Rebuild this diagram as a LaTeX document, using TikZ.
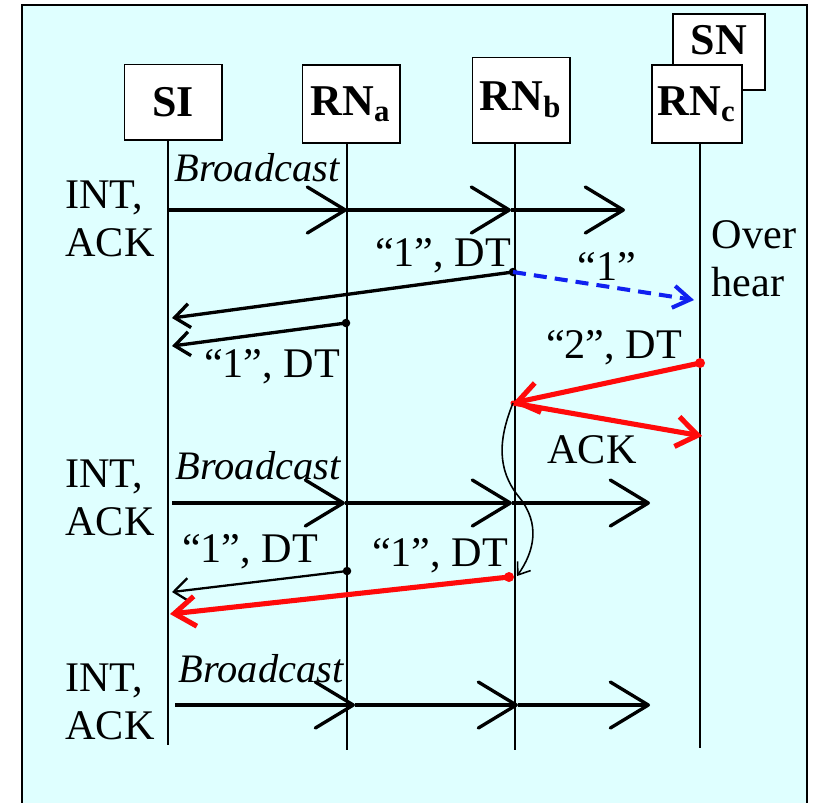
\documentclass[tikz,border=0pt]{standalone}
\usepackage{fontspec}
\setmainfont{Liberation Serif}
\usetikzlibrary{arrows.meta}
\definecolor{SQPanel}{HTML}{DFFFFF}
\definecolor{SQInk}{HTML}{000000}
\definecolor{SQRed}{HTML}{FF0A0A}
\definecolor{SQBlue}{HTML}{1020F0}
\tikzset{
  frame/.style={draw=SQInk,line width=0.5pt,fill=SQPanel},
  lifebox/.style={draw=SQInk,line width=0.55pt,fill=white,minimum width=9.7mm,
                  minimum height=7.5mm,inner sep=0pt,
                  font=\fontsize{12.5}{14}\selectfont\bfseries},
  lifeline/.style={SQInk,line width=0.55pt},
  bcast/.style={-{Straight Barb[length=3.8mm,width=4.6mm,round]},SQInk,line width=0.95pt},
  msg/.style={-{Straight Barb[length=1.5mm,width=2.4mm]},SQInk,line width=0.95pt},
  msgthin/.style={msg,line width=0.65pt},
  msgred/.style={-{Straight Barb[length=2.1mm,width=3mm]},SQRed,line width=1.45pt},
  msgblue/.style={-{Straight Barb[length=1.7mm,width=2.2mm]},SQBlue,line width=1.15pt,
                  dash pattern=on 3.7pt off 2.3pt},
  curvy/.style={-{Straight Barb[length=1.1mm,width=1.6mm]},SQInk,line width=0.45pt},
  dot/.style={circle,fill=SQInk,inner sep=0pt,minimum size=0.85mm},
  reddot/.style={dot,fill=SQRed,minimum size=1mm},
  txt/.style={text=SQInk,inner sep=0pt,font=\fontsize{12}{13.6}\selectfont},
  bclabel/.style={txt,font=\fontsize{11.5}{13}\selectfont\itshape},
}
\begin{document}
\begin{tikzpicture}[x=0.01cm,y=-0.01cm]
  \useasboundingbox (0,0) rectangle (813,802);
  \clip (0,0) rectangle (813,802);
  \draw[frame] (22,5) rectangle (807,840);

  \node[lifebox] (SI) at (173,102) {SI};
  \node[lifebox,minimum height=7.8mm] (RNa) at (351,104) {RN\textsubscript{a}};
  \node[lifebox,minimum height=8.5mm] (RNb) at (521,100) {RN\textsubscript{b}};
  \node[lifebox,minimum width=9.2mm,minimum height=7.6mm] (SN) at (719,52) {};
  \node[lifebox,fill=none,draw=none] (SNlabel) at (719,40) {SN};
  \node[lifebox,minimum width=9mm,minimum height=7.8mm] (RNc) at (697,104) {RN\textsubscript{c}};

  \coordinate (SIend) at (168,745);
  \coordinate (RNaend) at (347,750);
  \coordinate (RNbend) at (515,750);
  \coordinate (RNcend) at (700,748);
  \draw[lifeline] (SI.south -| SIend) -- (SIend);
  \draw[lifeline] (RNa.south -| RNaend) -- (RNaend);
  \draw[lifeline] (RNb.south -| RNbend) -- (RNbend);
  \draw[lifeline] (RNc.south -| RNcend) -- (RNcend);

  % first broadcast
  \node[txt,align=left] (int1) at (110,219) {INT,\\ACK};
  \node[bclabel] (bc1) at (257,168) {Broadcast};
  \coordinate (b1o) at (168,210);
  \coordinate (b1a) at (347,210);
  \coordinate (b1b) at (511,210);
  \coordinate (b1c) at (625,210);
  \draw[bcast] (b1o) -- (b1a);
  \draw[bcast] (b1a) -- (b1b);
  \draw[bcast] (b1b) -- (b1c);

  \node[txt] (dt1) at (443,256) {“1”, DT};
  \node[dot] (d1) at (513,272) {};
  \coordinate (t1) at (172,318);
  \draw[msg] (d1.center) -- (t1);
  \node[txt] (ov1) at (607,266) {“1”};
  \coordinate (oh) at (694,300);
  \draw[msgblue] (d1.center) -- (oh);
  \node[txt,align=left,anchor=west] (over) at (711,259) {Over\\hear};

  \node[dot] (d2) at (346,323) {};
  \coordinate (t2) at (172,346);
  \draw[msg] (d2.center) -- (t2);
  \node[txt] (dt2) at (272,367) {“1”, DT};

  \node[txt] (dt3) at (614,348) {“2”, DT};
  \node[reddot] (d3) at (700,363) {};
  \coordinate (t3) at (513,403);
  \coordinate (t4) at (702,436);
  \draw[msgred] (d3.center) -- (t3);
  \draw[msgred,line cap=round] (t3) -- (t4);
  \node[txt] (ack1) at (592,450) {ACK};
  \coordinate (t5) at (517,576);
  \draw[curvy] (t3) .. controls (498,440) and (497,470) .. (519,497)
                    .. controls (541,524) and (534,552) .. (t5);

  % second broadcast
  \node[txt,align=left] (int2) at (110,498) {INT,\\ACK};
  \node[bclabel] (bc2) at (258,466) {Broadcast};
  \coordinate (b2o) at (172,503);
  \coordinate (b2a) at (345,503);
  \coordinate (b2b) at (512,503);
  \coordinate (b2c) at (650,503);
  \draw[bcast] (b2o) -- (b2a);
  \draw[bcast] (b2a) -- (b2b);
  \draw[bcast] (b2b) -- (b2c);

  \node[txt] (dt4) at (250,552) {“1”, DT};
  \node[txt] (dt5) at (440,556) {“1”, DT};
  \node[dot] (d4) at (347,571) {};
  \coordinate (t6) at (172,592);
  \draw[msgthin] (d4.center) -- (t6);
  \node[reddot] (d5) at (509,577) {};
  \coordinate (t7) at (170,614);
  \draw[msgred] (d5.center) -- (t7);

  % third broadcast
  \node[txt,align=left] (int3) at (110,702) {INT,\\ACK};
  \node[bclabel] (bc3) at (261,669) {Broadcast};
  \coordinate (b3o) at (175,705);
  \coordinate (b3a) at (355,705);
  \coordinate (b3b) at (518,705);
  \coordinate (b3c) at (650,705);
  \draw[bcast] (b3o) -- (b3a);
  \draw[bcast] (b3a) -- (b3b);
  \draw[bcast] (b3b) -- (b3c);
\end{tikzpicture}
\end{document}
